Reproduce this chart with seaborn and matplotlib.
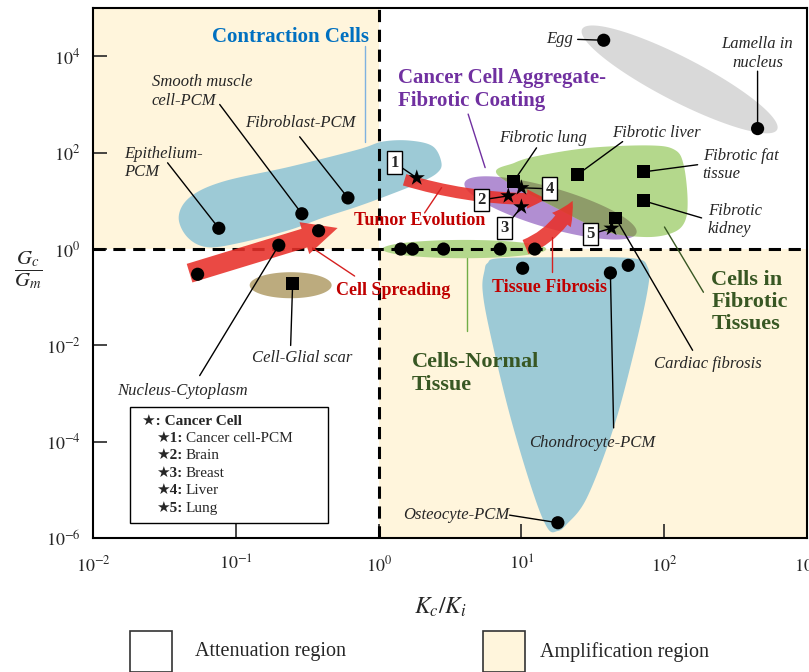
import numpy as np
import pandas as pd
import matplotlib
matplotlib.use("Agg")
import matplotlib.pyplot as plt
import seaborn as sns
from matplotlib.patches import Polygon, Rectangle, FancyArrowPatch
from matplotlib.ticker import NullLocator

sns.set_style("ticks")
plt.rcParams['font.family'] = ['Liberation Serif', 'DejaVu Sans']
plt.rcParams['mathtext.fontset'] = 'stix'

# ---- measured points: x = Kc/Ki, y = Gc/Gm ----
circle_x = [0.076, 0.29, 0.61, 0.38, 0.20, 0.054,
            1.43, 1.73, 2.85, 7.1, 12.4,
            10.2, 42, 56, 18, 37.7, 451]
circle_y = [2.7, 5.4, 11.5, 2.4, 1.2, 0.30,
            1, 1, 1, 1, 1,
            0.40, 0.32, 0.46, 2.1e-6, 2.15e4, 316]
square_x = [0.25, 8.8, 24.7, 72, 72, 45.7]
square_y = [0.195, 25, 35, 40, 10, 4.4]
star_x = [1.85, 8.1, 10.0, 10.0, 42.8]
star_y = [30, 12.7, 7.5, 18.7, 2.7]
star_ids = ['1', '2', '3', '4', '5']
cancer_types = ['Cancer cell-PCM', 'Brain', 'Breast', 'Liver', 'Lung']

# ---- region outlines in log10 units ----
contraction_outline = [(-1.40, 0.67), (-1.32, 1.08), (-1.09, 1.40), (-0.62, 1.71), (-0.15, 2.06),
                       (0.03, 2.23), (0.22, 2.25), (0.38, 2.13), (0.44, 1.79), (0.41, 1.58),
                       (0.29, 1.38), (0.08, 1.13), (-0.15, 0.88), (-0.39, 0.65), (-0.62, 0.40),
                       (-0.97, 0.13), (-1.20, 0.04), (-1.34, 0.25)]
chondro_outline = [(0.763, -0.29), (0.847, -0.19), (1.317, -0.17), (1.779, -0.19), (1.884, -0.375),
                   (1.884, -0.85), (1.779, -2.25), (1.639, -3.77), (1.457, -5.17), (1.317, -5.71),
                   (1.253, -5.85), (1.183, -5.79), (1.078, -5.02), (0.917, -3.42), (0.777, -1.69),
                   (0.728, -0.85), (0.742, -0.44)]
fibrotic_outline = [(0.833, 1.54), (0.952, 1.79), (1.127, 1.94), (1.478, 2.10), (1.898, 2.15),
                    (2.073, 2.06), (2.136, 1.75), (2.164, 1.02), (2.143, 0.56), (2.052, 0.33),
                    (1.863, 0.25), (1.583, 0.375), (1.246, 0.85)]
# ellipses: centre, half-axis u, half-axis v (log10 units)
purple_ell = [(1.204, 0.854), (0.602, -0.52), (0.039, 0.40)]
gray_ell = [(2.108, 3.52), (0.683, -1.042), (0.070, 0.408)]
normal_ell = [(0.60, 0.0), (0.574, 0.0), (0.0, 0.19)]
glial_ell = [(-0.616, -0.75), (0.287, 0.0), (0.0, 0.27)]


def lg(lx, ly):
    return 10 ** lx, 10 ** ly


def smooth(pts, n=14):
    P = np.array(pts)
    N = len(P)
    out = []
    for i in range(N):
        p0, p1, p2, p3 = P[i - 1], P[i], P[(i + 1) % N], P[(i + 2) % N]
        for t in np.linspace(0, 1, n, endpoint=False):
            out.append(0.5 * (2 * p1 + (-p0 + p2) * t + (2 * p0 - 5 * p1 + 4 * p2 - p3) * t ** 2
                              + (-p0 + 3 * p1 - 3 * p2 + p3) * t ** 3))
    return 10 ** np.array(out)


def ellipse(e):
    c, u, v = (np.array(a) for a in e)
    t = np.linspace(0, 2 * np.pi, 120)
    pts = c + np.outer(np.cos(t), u) + np.outer(np.sin(t), v)
    return 10 ** pts


fig = plt.figure(figsize=(8.09, 6.72), dpi=100)
ax = fig.add_axes([0.115, 0.199, 0.8825, 0.789])
ax.set_xscale('log')
ax.set_yscale('log')
ax.set_xlim(1e-2, 1e3)
ax.set_ylim(1e-6, 1e5)

cream = '#FFF5DC'
ax.fill_between([1e-2, 1], 1, 1e5, color=cream, lw=0, zorder=0)
ax.fill_between([1, 1e3], 1e-6, 1, color=cream, lw=0, zorder=0)

# regions
blue = '#9DCAD6'
green = '#B4D88C'
ax.add_patch(Polygon(smooth(contraction_outline), closed=True, fc=blue, ec='none', zorder=1))
ax.add_patch(Polygon(smooth(chondro_outline), closed=True, fc=blue, ec='none', zorder=1))
purple_patch = Polygon(ellipse(purple_ell), closed=True, fc='#B18ED2', ec='none', zorder=1)
ax.add_patch(purple_patch)
ax.add_patch(Polygon(smooth(fibrotic_outline), closed=True, fc=green, ec='none', zorder=1.1))
overlap = Polygon(smooth(fibrotic_outline), closed=True, fc='#8E9C69', ec='none', zorder=1.2)
ax.add_patch(overlap)
overlap.set_clip_path(purple_patch)
ax.add_patch(Polygon(ellipse(gray_ell), closed=True, fc='#D9D9D9', ec='none', zorder=1))
ax.add_patch(Polygon(ellipse(normal_ell), closed=True, fc=green, ec='none', zorder=1))
ax.add_patch(Polygon(ellipse(glial_ell), closed=True, fc='#BCAB7E', ec='none', zorder=1))

# dashed boundaries
ax.axhline(1, color='black', ls=(0, (4, 2.5)), lw=2.2, zorder=2)
ax.axvline(1, color='black', ls=(0, (4, 2.5)), lw=2.2, zorder=2)


def red_arrow(tail, tip, rad, tw, hw, hl):
    ax.add_patch(FancyArrowPatch(lg(*tail), lg(*tip), connectionstyle=f'arc3,rad={rad}',
                                 arrowstyle=f'simple,tail_width={tw},head_width={hw},head_length={hl}',
                                 color='#E8302A', alpha=0.88, lw=0, shrinkA=0, shrinkB=0, zorder=3))


red_arrow((-1.324, -0.50), (-0.287, 0.4375), 0.0, 14, 24, 25)
red_arrow((0.182, 1.4375), (1.176, 1.04), 0.08, 8.5, 14, 14)
red_arrow((1.029, 0.042), (1.359, 1.0), 0.2, 11, 17, 16)

# markers
pts = pd.DataFrame({'x': circle_x + square_x + star_x,
                    'y': circle_y + square_y + star_y,
                    'kind': ['circle'] * len(circle_x) + ['square'] * len(square_x) + ['star'] * len(star_x)})
sns.scatterplot(data=pts[pts.kind == 'circle'], x='x', y='y', marker='o', s=90,
                color='black', edgecolor='none', ax=ax, zorder=6, legend=False)
sns.scatterplot(data=pts[pts.kind == 'square'], x='x', y='y', marker='s', s=85,
                color='black', edgecolor='none', ax=ax, zorder=6, legend=False)
sns.scatterplot(data=pts[pts.kind == 'star'], x='x', y='y', marker='*', s=150,
                color='black', edgecolor='none', ax=ax, zorder=6, legend=False)
ax.set_xlabel('')
ax.set_ylabel('')


def leader(start, target, color='black', lw=1.0):
    x0, y0 = lg(*start)
    ax.plot([x0, target[0]], [y0, target[1]], color=color, lw=lw, zorder=4)


def label(s, pos, ha='left', size=12, **kw):
    ax.text(*lg(*pos), s, ha=ha, va='center', fontsize=size, zorder=7, **kw)


it = dict(style='italic', linespacing=1.2)
label('Epithelium-\nPCM', (-1.779, 1.79), **it)
leader((-1.478, 1.79), (circle_x[0], circle_y[0]))
label('Smooth muscle\ncell-PCM', (-1.59, 3.27), **it)
leader((-1.113, 3.0), (circle_x[1], circle_y[1]))
label('Fibroblast-PCM', (-0.938, 2.625), **it)
leader((-0.553, 2.33), (circle_x[2], circle_y[2]))
label('Nucleus-Cytoplasm', (-1.373, -2.94), ha='center', **it)
leader((-1.253, -2.625), (circle_x[4], circle_y[4]))
label('Cell-Glial scar', (-0.532, -2.25), ha='center', **it)
leader((-0.616, -2.0), (square_x[0], square_y[0]))
label('Osteocyte-PCM', (0.917, -5.52), ha='right', **it)
leader((0.917, -5.52), (circle_x[14], circle_y[14]))
label('Chondrocyte-PCM', (1.499, -4.02), ha='center', **it)
leader((1.646, -3.71), (circle_x[12], circle_y[12]))
label('Cardiac fibrosis', (2.304, -2.375), ha='center', **it)
leader((2.199, -2.10), (square_x[5], square_y[5]))
label('Egg', (1.36, 4.35), ha='right', **it)
leader((1.394, 4.35), (circle_x[15], circle_y[15]))
label('Lamella in\nnucleus', (2.654, 4.06), ha='center', **it)
leader((2.654, 3.69), (circle_x[16], circle_y[16]))
label('Fibrotic lung', (1.148, 2.31), ha='center', **it)
leader((1.106, 2.10), (square_x[1], square_y[1]))
label('Fibrotic liver', (1.632, 2.40), **it)
leader((1.709, 2.23), (square_x[2], square_y[2]))
label('Fibrotic fat\ntissue', (2.269, 1.75), **it)
leader((2.234, 1.75), (square_x[3], square_y[3]))
label('Fibrotic\nkidney', (2.304, 0.60), **it)
leader((2.262, 0.646), (square_x[4], square_y[4]))

# group titles
bold = dict(weight='bold', linespacing=1.15)
label('Contraction Cells', (-0.62, 4.40), ha='center', size=15, color='#0070C0', **bold)
leader((-0.098, 4.21), lg(-0.098, 2.23), color='#7FB2E0')
label('Cancer Cell Aggregate-\nFibrotic Coating', (0.133, 3.31), size=15, color='#7030A0', **bold)
leader((0.627, 2.80), lg(0.746, 1.69), color='#7030A0')
label('Cells-Normal\nTissue', (0.231, -2.58), size=16, color='#385723', **bold)
leader((0.616, -0.19), lg(0.616, -1.69), color='#70AD47')
label('Cells in\nFibrotic\nTissues', (2.33, -1.10), size=16, color='#385723', **bold)
leader((2.002, 0.458), lg(2.275, -0.896), color='#385723')
label('Tumor Evolution', (0.287, 0.60), ha='center', size=13, color='#C00000', **bold)
leader((0.441, 1.275), lg(0.322, 0.75), color='#D62020')
label('Cell Spreading', (0.105, -0.85), ha='center', size=13, color='#C00000', **bold)
leader((-0.462, 0.02), lg(-0.168, -0.56), color='#D62020')
label('Tissue Fibrosis', (1.197, -0.79), ha='center', size=13, color='#C00000', **bold)
leader((1.211, 0.25), lg(1.211, -0.48), color='#D62020')

# numbered star tags
tag_pos = [(0.112, 1.79), (0.721, 1.02), (0.882, 0.44), (1.197, 1.25), (1.485, 0.31)]
for sid, (tx, ty), sx, sy in zip(star_ids, tag_pos, star_x, star_y):
    ax.annotate(sid, xy=(sx, sy), xytext=lg(tx, ty), ha='center', va='center',
                fontsize=12, weight='bold', zorder=7,
                bbox=dict(boxstyle='square,pad=0.2', fc='white', ec='black', lw=1),
                arrowprops=dict(arrowstyle='-', color='black', lw=1, shrinkA=0, shrinkB=2))

# cancer cell key
ax.add_patch(Rectangle((0.052, 0.028), 0.277, 0.219, transform=ax.transAxes,
                       fc='white', ec='black', lw=1, zorder=6))
ax.text(0.069, 0.221, '\u2605: Cancer Cell', transform=ax.transAxes, fontsize=11,
        weight='bold', va='center', zorder=7)
for i, (sid, name) in enumerate(zip(star_ids, cancer_types)):
    yy = 0.189 - i * 0.033
    ax.text(0.088, yy, f'\u2605{sid}:', transform=ax.transAxes, fontsize=11,
            weight='bold', va='center', zorder=7)
    ax.text(0.130, yy, name, transform=ax.transAxes, fontsize=11, va='center', zorder=7)

# axes styling
ax.set_xticks([1e-2, 1e-1, 1, 1e1, 1e2, 1e3])
ax.set_xticklabels([r'$10^{-2}$', r'$10^{-1}$', r'$10^{0}$', r'$10^{1}$', r'$10^{2}$', r'$10^{3}$'])
ax.set_yticks([1e-6, 1e-4, 1e-2, 1, 1e2, 1e4])
ax.set_yticklabels([r'$10^{-6}$', r'$10^{-4}$', r'$10^{-2}$', r'$10^{0}$', r'$10^{2}$', r'$10^{4}$'])
ax.xaxis.set_minor_locator(NullLocator())
ax.yaxis.set_minor_locator(NullLocator())
ax.tick_params(direction='in', length=10, width=1.2, labelsize=13)
ax.tick_params(axis='x', pad=12)
ax.tick_params(axis='y', pad=9)
for sp in ax.spines.values():
    sp.set_linewidth(1.5)
    sp.set_color('black')
ax.text(-0.091, 0.505, r'$\dfrac{G_c}{G_m}$', transform=ax.transAxes, fontsize=15,
        ha='center', va='center')
ax.text(0.486, -0.13, r'$K_c/K_i$', transform=ax.transAxes, fontsize=17,
        ha='center', va='center')

# region legend below the plot
fig.add_artist(Rectangle((0.161, 0.0), 0.052, 0.061, transform=fig.transFigure,
                         fc='white', ec='#333333', lw=1.2))
fig.text(0.241, 0.030, 'Attenuation region', fontsize=14.5, va='center')
fig.add_artist(Rectangle((0.597, 0.0), 0.052, 0.061, transform=fig.transFigure,
                         fc=cream, ec='#333333', lw=1.2))
fig.text(0.667, 0.030, 'Amplification region', fontsize=14.5, va='center')

fig.savefig('out.png', dpi=100)
